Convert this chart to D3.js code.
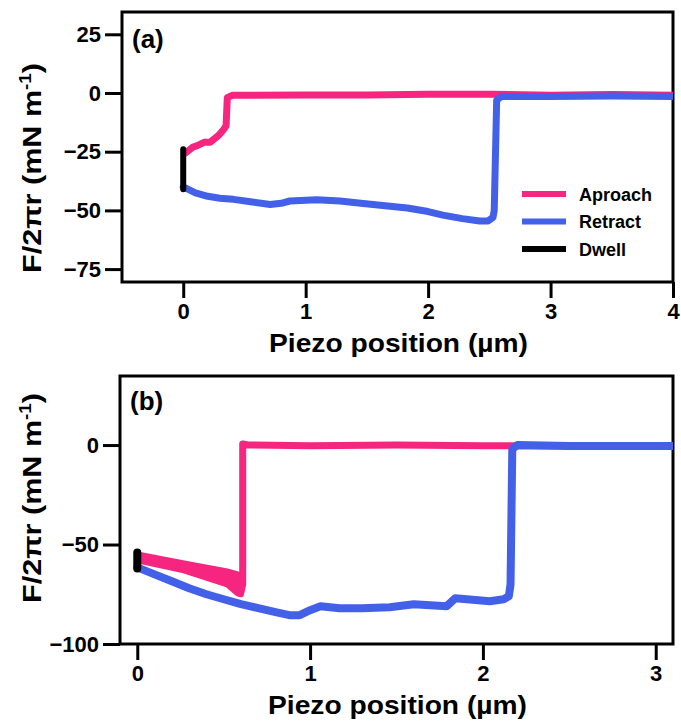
<!DOCTYPE html>
<html>
<head>
<meta charset="utf-8">
<script src="https://cdnjs.cloudflare.com/ajax/libs/d3/7.8.5/d3.min.js"></script>
<style>
  body { margin: 0; background: #fff; }
  text { font-family: "Liberation Sans", Arial, sans-serif; font-weight: bold; }
</style>
</head>
<body>
<script>
// panel (a)
var aXTicks = [0, 1, 2, 3, 4];
var aYTicks = [25, 0, -25, -50, -75];
var aApproachX = [0.02, 0.08, 0.11, 0.17, 0.22, 0.29, 0.33, 0.35, 0.36, 0.40, 1.0, 1.5, 2.0, 2.5, 3.0, 3.5, 4.0];
var aApproachF = [-25.5, -23, -22.5, -21, -21, -18, -15.5, -14, -2, -1, -0.8, -0.8, -0.5, -0.5, -1, -0.6, -1];
var aRetractX = [0, 0.1, 0.2, 0.3, 0.41, 0.55, 0.71, 0.8, 0.87, 1.09, 1.28, 1.45, 1.65, 1.83, 2.0, 2.12, 2.28, 2.42, 2.49, 2.53, 2.54, 2.56, 2.6, 3.0, 3.5, 4.0];
var aRetractF = [-40, -42.5, -44, -44.8, -45.3, -46.3, -47.5, -47, -46, -45.5, -46, -47, -48, -49, -50.5, -52, -53.5, -54.5, -54.5, -53, -50, -3, -1.5, -1.5, -1.3, -1.5];
var aDwellX = [0, 0];
var aDwellF = [-24, -41];

// panel (b)
var bXTicks = [0, 1, 2, 3];
var bYTicks = [0, -50, -100];
var bBandX = [0, 0.27, 0.52, 0.58, 0.6];
var bBandHi = [-55, -59.5, -63.5, -65, -65.5];
var bBandLo = [-58, -63, -70, -74.5, -75];
var bApproachX = [0, 0.3, 0.58, 0.6, 0.61, 0.61, 0.64, 1.0, 1.5, 2.0, 2.5, 3.1];
var bApproachF = [-56, -61, -66, -74, -70, 0.5, 0, -0.3, 0, -0.3, -0.5, -0.5];
var bRetractX = [0, 0.1, 0.2, 0.3, 0.4, 0.5, 0.6, 0.7, 0.8, 0.88, 0.94, 1.0, 1.06, 1.17, 1.3, 1.46, 1.6, 1.79, 1.84, 2.04, 2.12, 2.15, 2.16, 2.17, 2.2, 2.5, 3.1];
var bRetractF = [-61.5, -65, -68.5, -72, -75, -77.5, -80, -82, -84, -85.5, -85.5, -83, -81, -82, -82, -81.5, -80, -81, -77, -78.5, -77.5, -76, -70, -2, 0, -0.5, -0.5];
var bDwellX = [0, 0];
var bDwellF = [-54, -62];

var legendNames = ["Aproach", "Retract", "Dwell"];
var pink = "#f6257f";
var blue = "#4361e8";
var black = "#000";

var w = 681;
var h = 721;

var svg = d3.select("body").append("svg")
    .attr("width", w)
    .attr("height", h);

function fmt(d) {
    return d < 0 ? "\u2212" + Math.abs(d) : d;
}

function pts(xs, ys) {
    return xs.map(function(x, i) { return [x, ys[i]]; });
}

function panel(id, left, top, right, bottom, xDomain, yDomain, xTicks, yTicks, label, labelY, yLabelY, xLabelY) {
    var x = d3.scaleLinear().domain(xDomain).range([left, right]);
    var y = d3.scaleLinear().domain(yDomain).range([bottom, top]);
    var g = svg.append("g");

    g.append("clipPath").attr("id", id)
        .append("rect")
        .attr("x", left).attr("y", top)
        .attr("width", right - left).attr("height", bottom - top);

    var xa = g.append("g")
        .attr("transform", "translate(0," + bottom + ")")
        .call(d3.axisBottom(x).tickValues(xTicks).tickSize(16).tickPadding(5).tickFormat(fmt));
    var ya = g.append("g")
        .attr("transform", "translate(" + left + ",0)")
        .call(d3.axisLeft(y).tickValues(yTicks).tickSize(17).tickPadding(4).tickFormat(fmt));
    [xa, ya].forEach(function(a) {
        a.select(".domain").remove();
        a.selectAll("line").attr("stroke", "#000").attr("stroke-width", 3);
        a.selectAll("text").attr("font-size", "22px").attr("fill", "#000")
            .style("font-family", "'Liberation Sans', Arial, sans-serif").style("font-weight", "bold");
    });

    g.append("rect")
        .attr("x", left).attr("y", top)
        .attr("width", right - left).attr("height", bottom - top)
        .attr("fill", "none")
        .attr("stroke", "#000")
        .attr("stroke-width", 3);

    g.append("text")
        .attr("x", left + 10)
        .attr("y", labelY)
        .attr("font-size", "26px")
        .text(label);

    g.append("text")
        .attr("transform", "translate(41," + yLabelY + ") rotate(-90)")
        .attr("text-anchor", "middle")
        .attr("font-size", "26px")
        .attr("textLength", 210)
        .attr("lengthAdjust", "spacingAndGlyphs")
        .html("F/2\u03c0r (mN m<tspan dy='-10' font-size='16px'>-1</tspan><tspan dy='10'>)</tspan>");

    g.append("text")
        .attr("x", (left + right) / 2 + 1)
        .attr("y", xLabelY)
        .attr("text-anchor", "middle")
        .attr("font-size", "26px")
        .attr("textLength", 259)
        .attr("lengthAdjust", "spacingAndGlyphs")
        .text("Piezo position (\u00b5m)");

    var plot = g.append("g").attr("clip-path", "url(#" + id + ")");
    var line = d3.line()
        .x(function(d) { return x(d[0]); })
        .y(function(d) { return y(d[1]); });

    return { x: x, y: y, plot: plot, line: line };
}

function drawLine(p, data, color, width) {
    p.plot.append("path")
        .datum(data)
        .attr("d", p.line)
        .attr("fill", "none")
        .attr("stroke", color)
        .attr("stroke-width", width)
        .attr("stroke-linejoin", "round")
        .attr("stroke-linecap", "round");
}

// (a)
var pa = panel("clipA", 122, 12, 673, 282, [-0.5, 4], [-80.5, 34.5], aXTicks, aYTicks, "(a)", 48, 168, 352);
drawLine(pa, pts(aApproachX, aApproachF), pink, 7);
drawLine(pa, pts(aRetractX, aRetractF), blue, 7);
drawLine(pa, pts(aDwellX, aDwellF), black, 6);

// legend
var legendColors = [pink, blue, black];
var lg = svg.append("g");
lg.selectAll("line")
    .data(legendNames)
    .enter()
    .append("line")
    .attr("x1", 522)
    .attr("x2", 566)
    .attr("y1", function(d, i) { return 194 + i * 27.5; })
    .attr("y2", function(d, i) { return 194 + i * 27.5; })
    .attr("stroke", function(d, i) { return legendColors[i]; })
    .attr("stroke-width", 6);
lg.selectAll("text")
    .data(legendNames)
    .enter()
    .append("text")
    .attr("x", 579)
    .attr("y", function(d, i) { return 200.5 + i * 27.5; })
    .attr("font-size", "18px")
    .text(function(d) { return d; });

// (b)
var pb = panel("clipB", 120, 376, 673, 644, [-0.1, 3.1], [-100, 34.7], bXTicks, bYTicks, "(b)", 410, 498, 714);
var band = d3.area()
    .x(function(d) { return pb.x(d[0]); })
    .y0(function(d) { return pb.y(d[1]); })
    .y1(function(d) { return pb.y(d[2]); });
pb.plot.append("path")
    .datum(bBandX.map(function(x, i) { return [x, bBandLo[i], bBandHi[i]]; }))
    .attr("d", band)
    .attr("fill", pink)
    .attr("stroke", pink)
    .attr("stroke-width", 6)
    .attr("stroke-linejoin", "round");
drawLine(pb, pts(bApproachX, bApproachF), pink, 7);
drawLine(pb, pts(bRetractX, bRetractF), blue, 8);
drawLine(pb, pts(bDwellX, bDwellF), black, 8);
</script>
</body>
</html>
